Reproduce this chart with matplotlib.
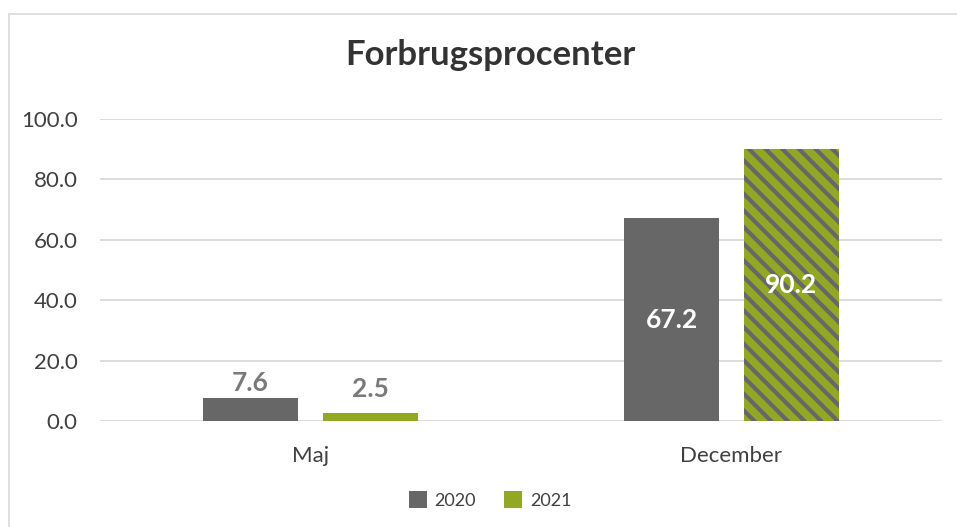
import numpy as np
import matplotlib
matplotlib.use("Agg")
import matplotlib.pyplot as plt
from matplotlib.patches import Rectangle

# Data
categories = ["Maj", "December"]
series_names = ["2020", "2021"]
values_2020 = [7.6, 67.2]
values_2021 = [2.5, 90.2]
y_ticks = [0, 20, 40, 60, 80, 100]

GRAY = "#676767"
GREEN = "#92a824"

plt.rcParams['font.family'] = ['Lato', 'DejaVu Sans']
plt.rcParams['hatch.linewidth'] = 3.0

fig = plt.figure(figsize=(9.57, 5.27), dpi=100)
ax = fig.add_axes([100 / 957, 1 - 421 / 527, 842 / 957, 302 / 527])

# chart border
fig.patches.append(Rectangle((9 / 957, -0.1), 1.2, 1.1 - 14 / 527,
                             transform=fig.transFigure, fill=False,
                             edgecolor="#d9d9d9", linewidth=1.2))

x = np.arange(len(categories))
offset = 0.1425
width = 0.2257

b1 = ax.bar(x - offset, values_2020, width, color=GRAY, linewidth=0, label=series_names[0], zorder=3)
b2 = ax.bar(x + offset, values_2021, width, color=GREEN, linewidth=0, label=series_names[1], zorder=3)
# hatch on the December 2021 bar
b2[1].set_hatch('\\\\')
b2[1].set_edgecolor(GRAY)

ax.set_xlim(-0.5, 1.5)
ax.set_ylim(0, 100)
ax.set_yticks(y_ticks)
ax.set_yticklabels([f"{v:.1f}" for v in y_ticks])
ax.set_xticks(x)
ax.set_xticklabels(categories)
ax.tick_params(axis='y', length=0, pad=16, labelsize=16, labelcolor="#404040")
ax.tick_params(axis='x', length=0, pad=18, labelsize=16, labelcolor="#404040")
ax.grid(axis='y', color="#d9d9d9", linewidth=1.3, zorder=0)
for s in ax.spines.values():
    s.set_visible(False)

# value labels (small bars: above, in pixels; big bars: centred, white)
above_pad = [[3, 12], [3, 3]]
for i, (bars, vals) in enumerate([(b1, values_2020), (b2, values_2021)]):
    for j, (rect, v) in enumerate(zip(bars, vals)):
        cx = rect.get_x() + rect.get_width() / 2
        if v < 20:
            pad = above_pad[0][i]
            ax.annotate(f"{v:.1f}", (cx, v), xytext=(0, pad * 0.72), textcoords='offset points',
                        ha='center', va='bottom', fontsize=19, fontweight='bold', color="#7a7a7a")
        else:
            ax.text(cx, v / 2, f"{v:.1f}", ha='center', va='center', fontsize=19,
                    fontweight='bold', color="white", zorder=4)

fig.text(490 / 957, 1 - 55 / 527, "Forbrugsprocenter", ha='center', va='center',
         fontsize=25, fontweight='bold', color="#333333")

leg = fig.legend(handles=[b1, b2], labels=series_names, loc='center',
                 bbox_to_anchor=(490 / 957, 1 - 500 / 527), ncol=2, frameon=False,
                 fontsize=13, handlelength=1.0, handleheight=1.0, columnspacing=1.6,
                 handletextpad=0.4)
for t in leg.get_texts():
    t.set_color("#404040")
leg.legend_handles[1].set_hatch(None)

fig.savefig("out.png", dpi=100)
